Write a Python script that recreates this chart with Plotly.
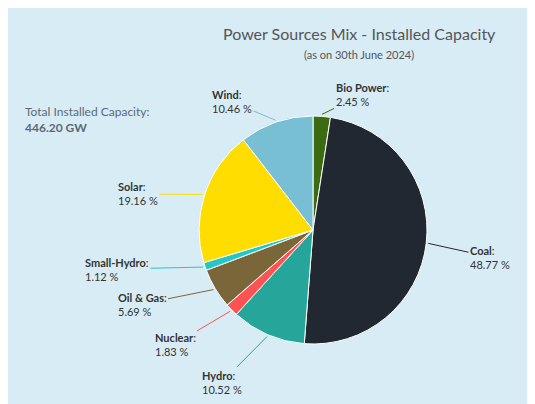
import math
import plotly.graph_objects as go

labels = ["Bio Power", "Coal", "Hydro", "Nuclear", "Oil & Gas", "Small-Hydro", "Solar", "Wind"]
values = [2.45, 48.77, 10.52, 1.83, 5.69, 1.12, 19.16, 10.46]
colors = ["#3d6b12", "#222831", "#26a69a", "#ff5252", "#7a6638", "#26c6c6", "#ffdd00", "#78bfd3"]
# label centre positions in pixels (layout)
label_pos = [(362, 96), (490, 258), (222, 383), (175, 345), (142, 305), (117, 270), (138, 195), (232, 103)]
line_col = colors

W, H = 535, 404
OX, OY = -8, -9  # compensate page offset
cx, cy, r = 313, 231, 114

def px(x):
    return (x + OX) / W

def py(y):
    return 1 - (y + OY) / H

fig = go.Figure(go.Pie(
    labels=labels, values=values, sort=False, direction="clockwise", rotation=0,
    marker=dict(colors=colors, line=dict(color="white", width=1)),
    textinfo="none", hoverinfo="label+percent", showlegend=False,
    domain=dict(x=[px(cx - r), px(cx + r)], y=[py(cy + r), py(cy - r)]),
))

ann = []
total = sum(values)
cum = 0
for lab, v, (lx, ly), lc in zip(labels, values, label_pos, line_col):
    mid = (cum + v / 2) / total * 2 * math.pi
    cum += v
    ex = cx + (r + 2) * math.sin(mid)
    ey = cy - (r + 2) * math.cos(mid)
    ann.append(dict(
        x=px(ex), y=py(ey), xref="paper", yref="paper",
        ax=lx - ex, ay=ly - ey, showarrow=True, arrowhead=0, arrowwidth=1, arrowcolor=lc,
        text=f"<b>{lab}</b>:<br>{v:.2f} %", align="left",
        font=dict(size=11, color="#333", family="Lato"),
    ))
ann += [
    dict(x=px(359), y=py(23), xref="paper", yref="paper", showarrow=False,
         text="Power Sources Mix - Installed Capacity", font=dict(size=16, color="#555", family="Lato")),
    dict(x=px(359), y=py(47), xref="paper", yref="paper", showarrow=False,
         text="(as on 30th June 2024)", font=dict(size=11, color="#555", family="Lato")),
    dict(x=px(23), y=py(103), xref="paper", yref="paper", showarrow=False, xanchor="left",
         align="left", text="Total Installed Capacity:<br><b>446.20 GW</b>",
         font=dict(size=12, color="#5a6a78", family="Lato")),
]

fig.update_layout(width=W, height=H, margin=dict(l=0, r=0, t=0, b=0),
                  paper_bgcolor="#d8ecf6", plot_bgcolor="#d8ecf6", annotations=ann)
fig.write_html("out.html")
